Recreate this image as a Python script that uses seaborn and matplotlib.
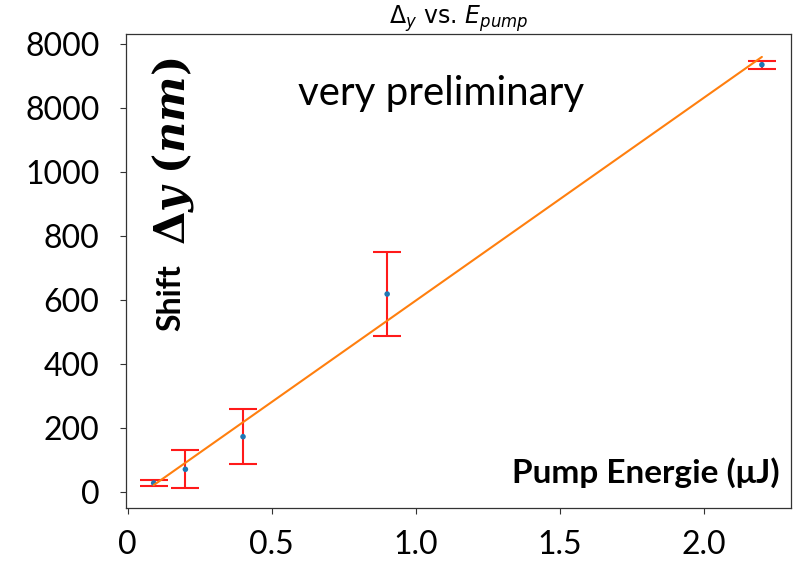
import numpy as np
import pandas as pd
import matplotlib
matplotlib.use("Agg")
import matplotlib.pyplot as plt
import seaborn as sns

# data
energy = [0.09, 0.20, 0.40, 0.90, 2.20]
shift = [28, 71, 173, 619, 1336]
shift_err = [8, 59, 85, 131, 12]
ytick_vals = [0, 200, 400, 600, 800, 1000, 1200, 1400]
ytick_labels = ["0", "200", "400", "600", "800", "1000", "8000", "8000"]
xtick_vals = [0.0, 0.5, 1.0, 1.5, 2.0]
xtick_labels = ["0", "0.5", "1.0", "1.5", "2.0"]

sns.set_style("ticks")
plt.rcParams['font.family'] = ['Lato', 'DejaVu Sans']
plt.rcParams['text.color'] = 'black'
plt.rcParams['xtick.labelcolor'] = 'black'
plt.rcParams['ytick.labelcolor'] = 'black'

fig = plt.figure(figsize=(7.95, 5.66), dpi=100)
ax = fig.add_axes([126/795, 1-508/566, (791-126)/795, (508-34)/566])

df = pd.DataFrame({"E": energy, "S": shift, "err": shift_err})
coef = np.polyfit(df["E"], df["S"], 1)
fit = pd.DataFrame({"E": [min(energy), max(energy)]})
fit["S"] = np.polyval(coef, fit["E"])

ax.errorbar(df["E"], df["S"], yerr=df["err"], fmt="none", ecolor="#ff1a1a",
            elinewidth=1.5, capsize=10, capthick=1.5, zorder=2)
sns.scatterplot(data=df, x="E", y="S", ax=ax, color="#1f77b4", s=16,
                edgecolor="none", zorder=3)
sns.lineplot(data=fit, x="E", y="S", ax=ax, color="#ff7f0e", linewidth=1.5,
             zorder=4)

ax.set_xlim(-0.006, 2.301)
ax.set_ylim(-50, 1432)
ax.set_xticks(xtick_vals)
ax.set_xticklabels(xtick_labels, fontsize=23, color="black")
ax.set_yticks(ytick_vals)
ax.set_yticklabels(ytick_labels, fontsize=23, color="black")
ax.tick_params(axis="y", pad=15, length=4, width=0.8, color="#333333")
ax.tick_params(axis="x", pad=12, length=4, width=0.8, color="#333333")
ax.set_xlabel("")
ax.set_ylabel("")
for sp in ax.spines.values():
    sp.set_visible(True)
    sp.set_color("#333333")
    sp.set_linewidth(0.9)

ax.set_title(r"$\Delta_y$ vs. $E_{pump}$", fontsize=17, family="DejaVu Sans", pad=4,
             color="black")

fig.text(441/795, 1-93/566, "very preliminary", fontsize=29, ha="center", va="center",
         color="black")
fig.text(780/795, 1-473/566, "Pump Energie (μJ)", fontsize=24, fontweight="bold",
         ha="right", va="center", color="black")
fig.text(171/795, 1-298/566, "Shift", fontsize=23, fontweight="bold", rotation=90,
         ha="center", va="center", color="black")
fig.text(173/795, 1-151/566, r"$\mathbf{\Delta}\mathbfit{y}\ \mathbf{(}\mathbfit{nm}\mathbf{)}$",
         fontsize=31, rotation=90, ha="center", va="center",
         math_fontfamily="dejavuserif", color="black")

fig.savefig("out.png", dpi=100)
